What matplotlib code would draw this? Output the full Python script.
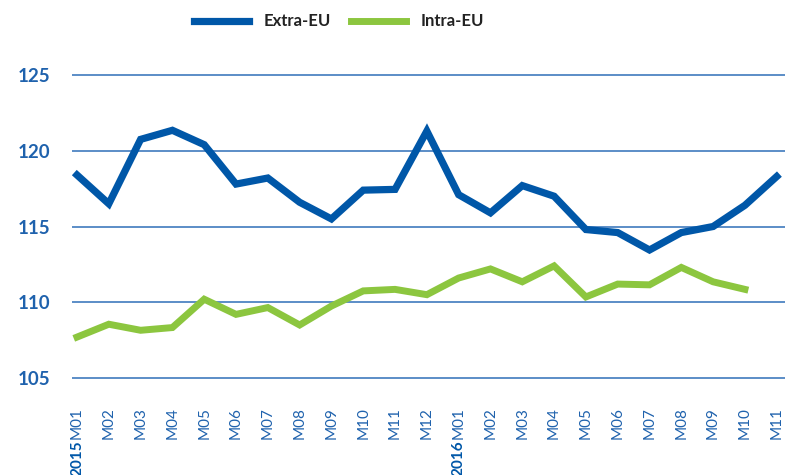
import matplotlib
matplotlib.use("Agg")
import matplotlib.pyplot as plt

months = ["M01", "M02", "M03", "M04", "M05", "M06", "M07", "M08", "M09", "M10", "M11", "M12",
          "M01", "M02", "M03", "M04", "M05", "M06", "M07", "M08", "M09", "M10", "M11"]
years = {0: "2015", 12: "2016"}

extra_eu = [118.4, 116.5, 120.75, 121.35, 120.4, 117.8, 118.2, 116.6, 115.5, 117.4, 117.45, 121.3,
            117.1, 115.9, 117.7, 117.0, 114.8, 114.6, 113.45, 114.6, 115.0, 116.4, 118.3]
intra_eu = [107.7, 108.55, 108.15, 108.33, 110.2, 109.2, 109.65, 108.5, 109.75, 110.75, 110.85, 110.5,
            111.6, 112.2, 111.35, 112.4, 110.35, 111.2, 111.15, 112.3, 111.35, 110.85]
yticks = [105, 110, 115, 120, 125]

BLUE = "#0057a8"
GREEN = "#8cc63f"
TICK = "#1f62ad"
GRID = "#2f6fb8"

plt.rcParams['font.family'] = ['Lato', 'DejaVu Sans']

fig = plt.figure(figsize=(7.85, 4.75), dpi=100)
ax = fig.add_axes([0.092, 0.1723, 0.908, 0.7017])

x_extra = list(range(len(extra_eu)))
x_intra = list(range(len(intra_eu)))
ax.plot(x_extra, extra_eu, color=BLUE, lw=5.2, label="Extra-EU", zorder=3, solid_joinstyle='miter')
ax.plot(x_intra, intra_eu, color=GREEN, lw=5.0, label="Intra-EU", zorder=3, solid_joinstyle='miter')

for v in yticks:
    ax.axhline(v, color=GRID, lw=1.1, zorder=2)

ax.set_ylim(104, 126)
ax.set_xlim(-0.15, 22.26)
ax.set_yticks(yticks)
ax.set_yticklabels([str(v) for v in yticks], fontsize=13.5, fontweight='bold', color=TICK)
ax.set_xticks(range(len(months)))
ax.set_xticklabels(months, rotation=90, fontsize=11, color=TICK)
ax.tick_params(axis='y', length=0, pad=16)
ax.tick_params(axis='x', length=0, pad=10)
for s in ax.spines.values():
    s.set_visible(False)

for i, yr in years.items():
    ax.annotate(yr, xy=(i, 0), xycoords=('data', 'axes fraction'),
                xytext=(0, -34), textcoords='offset points',
                rotation=90, ha='center', va='top', fontsize=11, fontweight='bold', color=BLUE,
                annotation_clip=False)

leg = fig.legend(loc='center', bbox_to_anchor=(0.432, 0.955), ncol=2, frameon=False,
                 prop={'family': 'Lato', 'weight': 'bold', 'size': 12},
                 handlelength=3.3, handletextpad=0.9, columnspacing=1.2)
for t in leg.get_texts():
    t.set_color("#222222")

fig.savefig("out.png", dpi=100)
